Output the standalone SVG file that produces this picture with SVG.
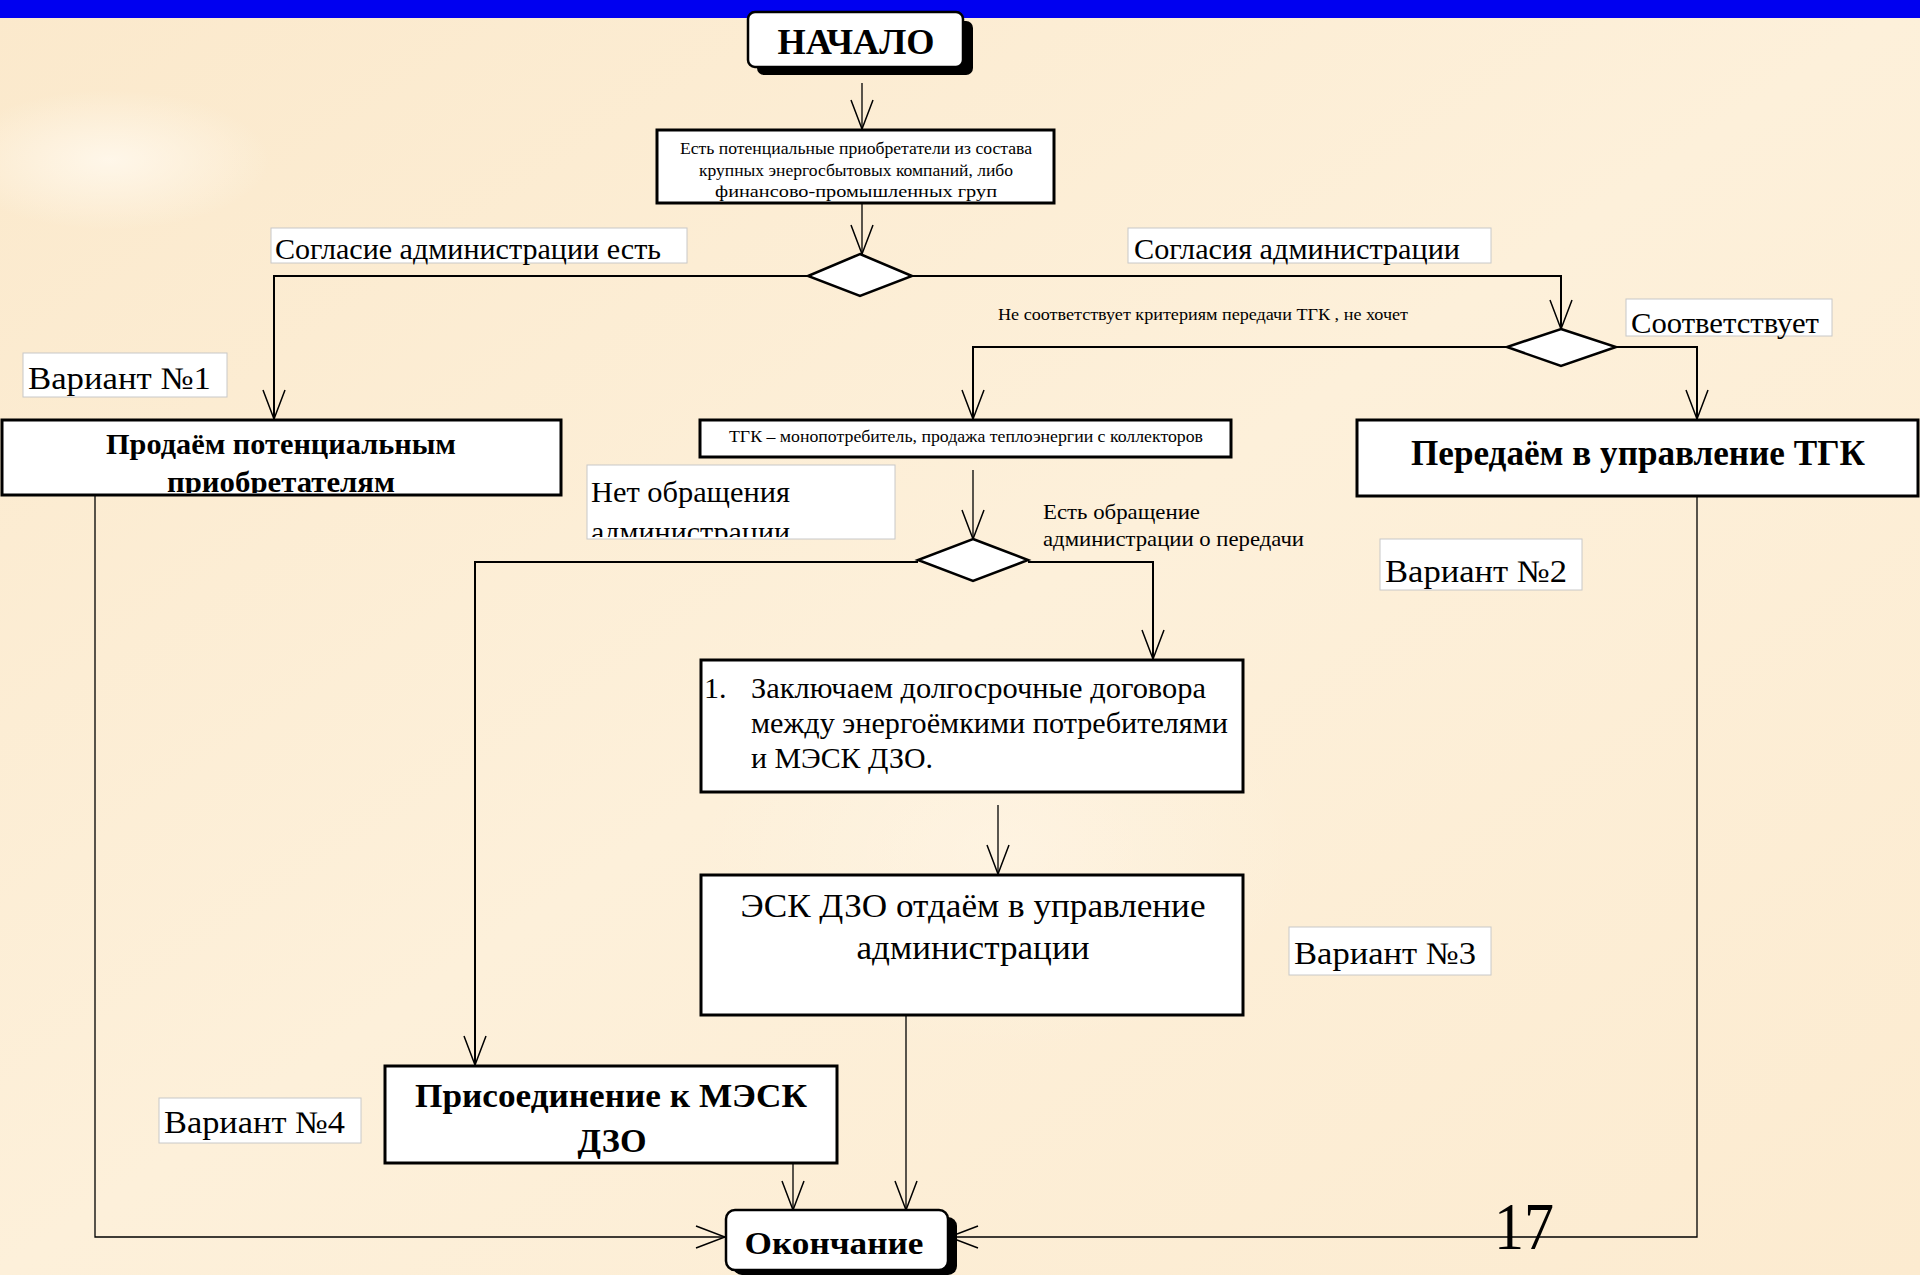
<svg xmlns="http://www.w3.org/2000/svg" width="1920" height="1275" viewBox="0 0 1920 1275">
<defs>
  <linearGradient id="bg" x1="0" y1="0" x2="1" y2="1">
    <stop offset="0" stop-color="#FBE9CC"/>
    <stop offset="0.5" stop-color="#FDF0DA"/>
    <stop offset="1" stop-color="#FCEBD0"/>
  </linearGradient>
  <radialGradient id="glow" cx="0.5" cy="0.5" r="0.5">
    <stop offset="0" stop-color="#FFF8EC" stop-opacity="0.9"/>
    <stop offset="1" stop-color="#FFF8EC" stop-opacity="0"/>
  </radialGradient>
  <marker id="arr" markerUnits="userSpaceOnUse" markerWidth="32" markerHeight="28" viewBox="0 -14 32 28" refX="30" refY="0" orient="auto">
    <path d="M1,-11 L30,0 L1,11" fill="none" stroke="#000" stroke-width="1.5"/>
  </marker>
  <clipPath id="clipSell"><rect x="3" y="421" width="557" height="72"/></clipPath>
  <clipPath id="clipNet"><rect x="588" y="466" width="306" height="71"/></clipPath>
  <clipPath id="clipDog"><rect x="702" y="661" width="540" height="130"/></clipPath>
</defs>
<style>
  .box { fill: #fff; stroke: #000; stroke-width: 3; }
  .lbl { fill: #fff; stroke: #c8c8c8; stroke-width: 1; }
  .sh { fill: #000; }
  .dia { fill: #fff; stroke: #000; stroke-width: 2.5; }
  .t { font-family: "Liberation Serif", "Times New Roman", serif; fill: #000; }
  .b { font-weight: bold; }
  .c { text-anchor: middle; }
  .conn path { fill: none; stroke: #000; stroke-width: 2; }
  .conn .thin { stroke-width: 1.3; }
</style>

<rect x="0" y="0" width="1920" height="1275" fill="url(#bg)"/>
<ellipse cx="110" cy="160" rx="160" ry="70" fill="url(#glow)"/>
<ellipse cx="1000" cy="850" rx="300" ry="200" fill="url(#glow)" opacity="0.5"/>
<rect x="0" y="0" width="1920" height="18" fill="#0000F0"/>

<g id="connectors" class="conn">
  <path class="thin" d="M862,83 V129" marker-end="url(#arr)"/>
  <path class="thin" d="M862,204 V254" marker-end="url(#arr)"/>
  <path d="M808,276 H274 V419" marker-end="url(#arr)"/>
  <path d="M912,276 H1561 V329" marker-end="url(#arr)"/>
  <path d="M1507,347 H973 V419" marker-end="url(#arr)"/>
  <path d="M1616,347 H1697 V419" marker-end="url(#arr)"/>
  <path class="thin" d="M973,470 V539" marker-end="url(#arr)"/>
  <path d="M918,562 H475 V1065" marker-end="url(#arr)"/>
  <path d="M1028,562 H1153 V659" marker-end="url(#arr)"/>
  <path class="thin" d="M998,805 V874" marker-end="url(#arr)"/>
  <path class="thin" d="M906,1016 V1210" marker-end="url(#arr)"/>
  <path class="thin" d="M793,1163 V1210" marker-end="url(#arr)"/>
  <path class="thin" d="M95,490 V1237 H725" marker-end="url(#arr)"/>
  <path class="thin" d="M1697,490 V1237 H949" marker-end="url(#arr)"/>
</g>

<g id="start">
  <rect class="sh" x="757" y="21" width="216" height="54" rx="7"/>
  <rect x="748" y="12" width="215" height="55" rx="7" fill="#fff" stroke="#000" stroke-width="2.5"/>
  <text class="t b c" x="856" y="54" font-size="36" textLength="157" lengthAdjust="spacingAndGlyphs">НАЧАЛО</text>
</g>

<g id="buyers">
  <rect class="box" x="657" y="130" width="397" height="73" stroke-width="2.5"/>
  <text class="t c" x="856" y="154" font-size="17" textLength="352" lengthAdjust="spacingAndGlyphs">Есть потенциальные приобретатели  из состава</text>
  <text class="t c" x="856" y="176" font-size="17" textLength="314" lengthAdjust="spacingAndGlyphs">крупных  энергосбытовых компаний, либо</text>
  <text class="t c" x="856" y="197" font-size="17" textLength="282" lengthAdjust="spacingAndGlyphs">финансово-промышленных груп</text>
</g>

<g id="dec1">
  <polygon class="dia" points="860,254 912,276 860,296 808,276"/>
</g>

<g id="lbl-yes">
  <rect class="lbl" x="271" y="228" width="416" height="35"/>
  <text class="t" x="275" y="259" font-size="30" textLength="386" lengthAdjust="spacingAndGlyphs">Согласие администрации есть</text>
</g>

<g id="lbl-no">
  <rect class="lbl" x="1128" y="228" width="363" height="35"/>
  <text class="t" x="1134" y="259" font-size="30" textLength="326" lengthAdjust="spacingAndGlyphs">Согласия администрации</text>
</g>

<g id="dec2">
  <polygon class="dia" points="1561,329 1616,347 1561,366 1507,347"/>
</g>

<g id="lbl-crit">
  <text class="t" x="998" y="320" font-size="16" textLength="410" lengthAdjust="spacingAndGlyphs">Не соответствует  критериям передачи ТГК ,  не хочет</text>
</g>

<g id="lbl-match">
  <rect class="lbl" x="1626" y="299" width="206" height="37"/>
  <text class="t" x="1631" y="333" font-size="30" textLength="188" lengthAdjust="spacingAndGlyphs">Соответствует</text>
</g>

<g id="var1">
  <rect class="lbl" x="23" y="353" width="204" height="44"/>
  <text class="t" x="28" y="389" font-size="31" textLength="183" lengthAdjust="spacingAndGlyphs">Вариант №1</text>
</g>

<g id="sell">
  <rect class="box" x="2" y="420" width="559" height="75"/>
  <g clip-path="url(#clipSell)">
    <text class="t b c" x="281" y="454" font-size="30" textLength="350" lengthAdjust="spacingAndGlyphs">Продаём потенциальным</text>
    <text class="t b c" x="281" y="492" font-size="30" textLength="228" lengthAdjust="spacingAndGlyphs">приобретателям</text>
  </g>
</g>

<g id="tgk-mono">
  <rect class="box" x="700" y="420" width="531" height="37" stroke-width="2.5"/>
  <text class="t c" x="966" y="442" font-size="16" textLength="474" lengthAdjust="spacingAndGlyphs">ТГК – монопотребитель,  продажа теплоэнергии с коллекторов</text>
</g>

<g id="tgk">
  <rect class="box" x="1357" y="420" width="561" height="76"/>
  <text class="t b c" x="1638" y="465" font-size="36" textLength="454" lengthAdjust="spacingAndGlyphs">Передаём в управление ТГК</text>
</g>

<g id="lbl-noreq">
  <rect class="lbl" x="587" y="465" width="308" height="74"/>
  <g clip-path="url(#clipNet)">
    <text class="t" x="591" y="502" font-size="30" textLength="199" lengthAdjust="spacingAndGlyphs">Нет обращения</text>
    <text class="t" x="591" y="542" font-size="30" textLength="199" lengthAdjust="spacingAndGlyphs">администрации</text>
  </g>
</g>

<g id="dec3">
  <polygon class="dia" points="973,539 1028,560 973,581 918,560"/>
</g>

<g id="lbl-req">
  <text class="t" x="1043" y="519" font-size="21" textLength="157" lengthAdjust="spacingAndGlyphs">Есть обращение</text>
  <text class="t" x="1043" y="546" font-size="21" textLength="261" lengthAdjust="spacingAndGlyphs">администрации о передачи</text>
</g>

<g id="var2">
  <rect class="lbl" x="1380" y="539" width="202" height="51"/>
  <text class="t" x="1385" y="582" font-size="31" textLength="182" lengthAdjust="spacingAndGlyphs">Вариант №2</text>
</g>

<g id="contracts">
  <rect class="box" x="701" y="660" width="542" height="132"/>
  <g clip-path="url(#clipDog)">
    <text class="t" x="704" y="698" font-size="30">1.</text>
    <text class="t" x="751" y="698" font-size="30" textLength="455" lengthAdjust="spacingAndGlyphs">Заключаем долгосрочные договора</text>
    <text class="t" x="751" y="733" font-size="30" textLength="477" lengthAdjust="spacingAndGlyphs">между энергоёмкими потребителями</text>
    <text class="t" x="751" y="768" font-size="30" textLength="182" lengthAdjust="spacingAndGlyphs">и МЭСК ДЗО.</text>
  </g>
</g>

<g id="esk">
  <rect class="box" x="701" y="875" width="542" height="140"/>
  <text class="t c" x="973" y="917" font-size="33" textLength="465" lengthAdjust="spacingAndGlyphs">ЭСК ДЗО отдаём в управление</text>
  <text class="t c" x="973" y="959" font-size="33" textLength="233" lengthAdjust="spacingAndGlyphs">администрации</text>
</g>

<g id="var3">
  <rect class="lbl" x="1289" y="927" width="202" height="48"/>
  <text class="t" x="1294" y="964" font-size="31" textLength="182" lengthAdjust="spacingAndGlyphs">Вариант №3</text>
</g>

<g id="join">
  <rect class="box" x="385" y="1066" width="452" height="97"/>
  <text class="t b c" x="611" y="1107" font-size="34" textLength="392" lengthAdjust="spacingAndGlyphs">Присоединение к МЭСК</text>
  <text class="t b c" x="612" y="1152" font-size="34" textLength="69" lengthAdjust="spacingAndGlyphs">ДЗО</text>
</g>

<g id="var4">
  <rect class="lbl" x="159" y="1098" width="202" height="45"/>
  <text class="t" x="164" y="1133" font-size="31" textLength="181" lengthAdjust="spacingAndGlyphs">Вариант №4</text>
</g>

<g id="end">
  <rect class="sh" x="733" y="1217" width="224" height="58" rx="9"/>
  <rect x="726" y="1210" width="222" height="60" rx="9" fill="#fff" stroke="#000" stroke-width="2.5"/>
  <text class="t b c" x="834" y="1254" font-size="32" textLength="179" lengthAdjust="spacingAndGlyphs">Окончание</text>
</g>

<text class="t" x="1494" y="1249" font-size="68" textLength="60" lengthAdjust="spacingAndGlyphs">17</text>
</svg>
